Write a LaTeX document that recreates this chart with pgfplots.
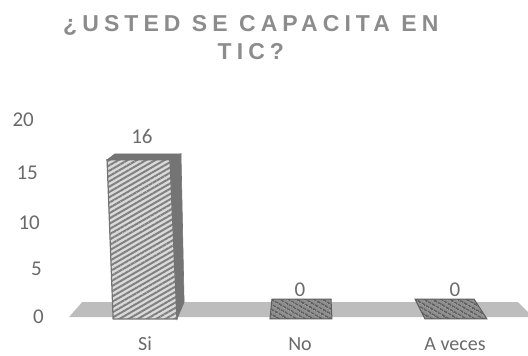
\documentclass[border=0pt]{standalone}
\usepackage{fontspec}
\setmainfont{Carlito}
\newfontfamily\titlefont[LetterSpace=22]{Liberation Sans}
\usepackage{pgfplots}
\pgfplotsset{compat=1.18}
\usetikzlibrary{patterns.meta}
\definecolor{labelgray}{HTML}{6A6A6A}
\definecolor{titlegray}{HTML}{8C8C8C}
\definecolor{floorgray}{HTML}{BDBDBD}
\definecolor{barside}{HTML}{747474}
\definecolor{barlight}{HTML}{DADADA}
\definecolor{barhatch}{HTML}{808080}
\definecolor{flatfill}{HTML}{8E8E8E}
\definecolor{flathatch}{HTML}{5E5E5E}
\begin{document}
\begin{tikzpicture}
\path[use as bounding box] (-46pt,-37pt) rectangle (482pt,319pt);
\begin{axis}[
  at={(0pt,0pt)}, anchor=south west,
  scale only axis, width=482pt, height=199pt,
  xmin=-0.639, xmax=2.471, ymin=0, ymax=20,
  clip=false,
  axis line style={draw=none},
  major tick style={draw=none},
  xtick={0,1,2},
  xticklabels={Si,No,A veces},
  ytick={0,5,10,15,20},
  yticklabels={\raisebox{2pt}{0}\kern2pt,\raisebox{1pt}{5}\kern4pt,\raisebox{-3pt}{10}\kern6pt,\raisebox{-2.5pt}{15}\kern8pt,20\kern12pt},
  xticklabel style={anchor=center, yshift=-25pt, inner sep=0pt,
    font=\fontsize{20}{22}\selectfont, text=labelgray},
  yticklabel style={anchor=base east, yshift=-7pt,
    font=\fontsize{21}{23}\selectfont, text=labelgray, inner xsep=0pt},
  title={\titlefont\bfseries ¿USTED SE CAPACITA EN\\\titlefont\bfseries TIC?},
  title style={at={(axis description cs:0.425,1.385)}, anchor=center, align=center,
    font=\fontsize{23}{28}\selectfont, text=titlegray},
  /pgf/number format/assume math mode=true,
]
% floor
\addplot[fill=floorgray, draw=none] coordinates
  {(-0.49,0.2) (2.471,0.2) (2.471,0.7) (2.406,1.7) (-0.406,1.7)} -- cycle;
% Si: side and top faces, then the hatched front
\addplot[fill=barside, draw=barside, line width=0.6pt] coordinates
  {(0.161,16) (0.232,16.6) (0.252,1.7) (0.206,0)} -- cycle;
\addplot[fill=barside, draw=barside, line width=0.6pt] coordinates
  {(-0.245,16) (0.161,16) (0.232,16.6) (-0.194,16.6)} -- cycle;
\addplot[fill=barlight, draw=none] coordinates
  {(-0.206,0) (0.206,0) (0.161,16) (-0.245,16)} -- cycle;
\addplot[pattern={Lines[angle=30,distance=4.6pt,line width=2pt]}, pattern color=barhatch,
  draw=barside, line width=1.2pt] coordinates
  {(-0.206,0) (0.206,0) (0.161,16) (-0.245,16)} -- cycle;
% No: flat top face of the zero bar
\addplot[fill=flatfill, draw=none] coordinates
  {(0.806,0) (1.206,0) (1.2,2) (0.819,2)} -- cycle;
\addplot[pattern={Lines[angle=-30,distance=4pt,line width=2pt]}, pattern color=flathatch,
  draw=flathatch, line width=1pt] coordinates
  {(0.806,0) (1.206,0) (1.2,2) (0.819,2)} -- cycle;
% A veces: flat top face of the zero bar
\addplot[fill=flatfill, draw=none] coordinates
  {(1.806,0) (2.206,0) (2.123,2) (1.742,2)} -- cycle;
\addplot[pattern={Lines[angle=-30,distance=4pt,line width=2pt]}, pattern color=flathatch,
  draw=flathatch, line width=1pt] coordinates
  {(1.806,0) (2.206,0) (2.123,2) (1.742,2)} -- cycle;
% value labels
\addplot[draw=none, mark=none, nodes near coords, point meta=y,
  every node near coord/.append style={anchor=center, yshift=23pt,
    font=\fontsize{21}{23}\selectfont, text=labelgray}]
  coordinates {(-0.02,16)};
\addplot[draw=none, mark=none, nodes near coords, point meta=y,
  every node near coord/.append style={anchor=center, yshift=29pt,
    font=\fontsize{21}{23}\selectfont, text=labelgray}]
  coordinates {(1,0) (2,0)};
\end{axis}
\end{tikzpicture}
\end{document}
